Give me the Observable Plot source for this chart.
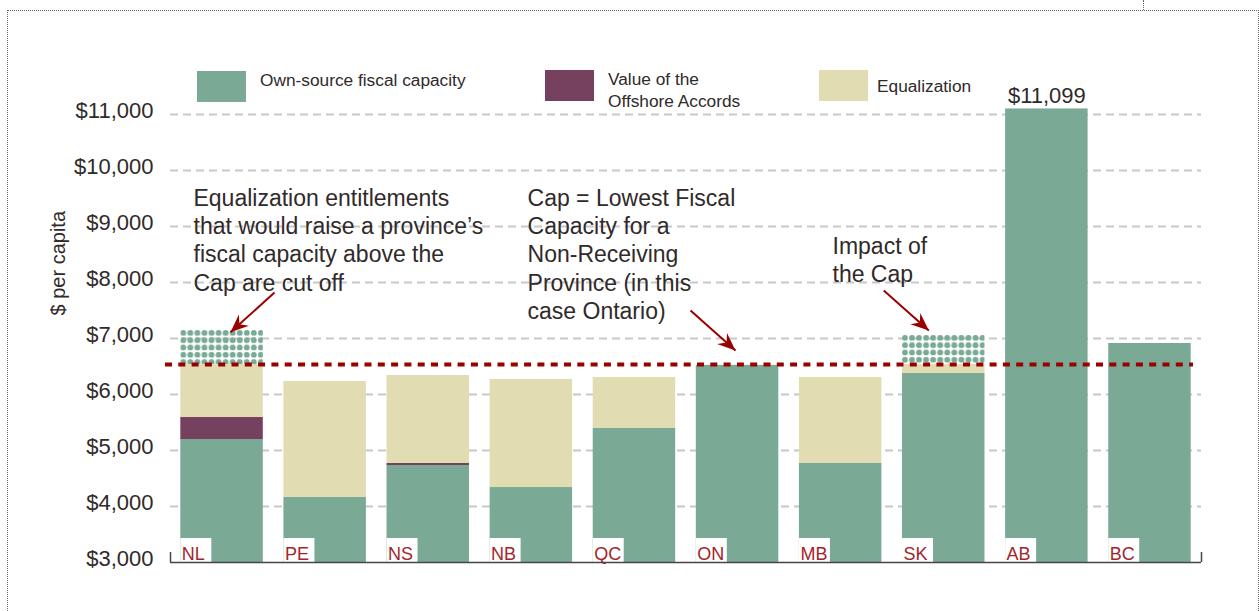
<!DOCTYPE html>
<html><head><meta charset="utf-8">
<script src="https://cdn.jsdelivr.net/npm/d3@7"></script>
<script src="https://cdn.jsdelivr.net/npm/@observablehq/plot@0.6"></script>
<style>
html,body{margin:0;padding:0;background:#fff;}
#wrap{position:relative;width:1259px;height:611px;overflow:hidden;font-family:"Liberation Sans",Arial,sans-serif;color:#302a2a;}
.frame{position:absolute;left:7px;top:10px;width:1250px;height:700px;border-left:1px dotted #666;border-top:1px dotted #666;border-right:1px dotted #666;}
.notch{position:absolute;left:1143px;top:0;height:10px;border-left:1px dotted #666;}
#chart{position:absolute;left:0;top:0;}
.sw{position:absolute;width:49px;height:31px;}
.lt{position:absolute;font-size:17.3px;line-height:22px;white-space:pre;}
</style></head><body>
<div id="wrap">
  <div class="frame"></div><div class="notch"></div>
  <div id="chart"></div>
  <div id="legend"></div>
</div>
<script>
// ---- data ----
const provinces   = ["NL","PE","NS","NB","QC","ON","MB","SK","AB","BC"];
const ownSource   = [5196, 4161, 4732, 4339, 5398, 6520, 4768, 6375, 11099, 6911];
const offshore    = [393, 0, 36, 0, 0, 0, 0, 0, 0, 0];
const equalization= [946, 2071, 1571, 1929, 906, 0, 1536, 160, 0, 0];
const cutOff      = [608, 0, 0, 0, 0, 0, 0, 519, 0, 0];
const cap = 6535;
const yTicks = [3000, 4000, 5000, 6000, 7000, 8000, 9000, 10000, 11000];
const seriesKeys   = ["own", "offshore", "equalization"];
const seriesLabels = ["Own-source fiscal capacity", "Value of the\nOffshore Accords", "Equalization"];
const seriesColors = ["#7aaa96", "#76405f", "#e2dcb2"];
const notes = [
  {x: -0.277, y: 9732, text: "Equalization entitlements\nthat would raise a province\u2019s\nfiscal capacity above the\nCap are cut off"},
  {x: 2.963, y: 9732, text: "Cap = Lowest Fiscal\nCapacity for a\nNon-Receiving\nProvince (in this\ncase Ontario)"},
  {x: 5.921, y: 8875, text: "Impact of\nthe Cap"}
];
const pointers = [
  {x1: 0.509, y1: 7821, x2: 0.082, y2: 7112},
  {x1: 4.544, y1: 7500, x2: 4.980, y2: 6786},
  {x1: 6.418, y1: 7857, x2: 6.855, y2: 7143}
];

// ---- derived tables ----
const rows = provinces.map((p, i) => ({p, i, own: ownSource[i], off: offshore[i], eq: equalization[i], cut: cutOff[i]}));
const segs = [];
rows.forEach(r => {
  segs.push({i: r.i, series: "own", y1: 0, y2: r.own});
  segs.push({i: r.i, series: "offshore", y1: r.own, y2: r.own + r.off});
  segs.push({i: r.i, series: "equalization", y1: r.own + r.off, y2: r.own + r.off + r.eq});
});
const fmt = d => "$" + d3.format(",")(d);
const half = 0.4;
const red = "#990000";

const axisMark = Plot.axisY
  ? Plot.axisY(yTicks, {tickFormat: fmt, tickSize: 0, tickPadding: 17, fontSize: 22, dy: -4, label: null})
  : Plot.text(yTicks, {y: d => d, frameAnchor: "left", textAnchor: "end", dx: -17, dy: -4, text: fmt, fontSize: 22});

const cutMarks = rows.filter(r => r.cut > 0).map(r =>
  Plot.rectY([r], {x1: d => d.i - half, x2: d => d.i + half, y1: d => d.own + d.off + d.eq, y2: d => d.own + d.off + d.eq + d.cut, fill: `url(#dots-${r.p})`})
);

const plot = Plot.plot({
  width: 1259, height: 611,
  marginTop: 86, marginBottom: 49, marginLeft: 170, marginRight: 58,
  style: {fontFamily: "'Liberation Sans', Arial, sans-serif", fontSize: "22px", color: "#302a2a", background: "transparent", overflow: "visible"},
  x: {domain: [-0.5, 9.5], axis: null},
  y: Plot.axisY ? {domain: [3000, 11500], clamp: true} : {domain: [3000, 11500], clamp: true, axis: null},
  color: {domain: seriesKeys, range: seriesColors},
  marks: [
    Plot.ruleY(yTicks.slice(1), {stroke: "#c8c8c8", strokeWidth: 2, strokeDasharray: "8,5"}),
    Plot.rectY(segs, {filter: d => d.y2 > d.y1, x1: d => d.i - half, x2: d => d.i + half, y1: "y1", y2: "y2", fill: "series"}),
    ...cutMarks,
    Plot.ruleY([cap], {stroke: red, strokeWidth: 4, strokeDasharray: "7,6.3", insetLeft: -5, insetRight: 8}),
    Plot.rect(rows, {x1: d => d.i - half, x2: d => d.i - half, y1: 3000, y2: 3000, insetTop: -24, insetRight: -31, fill: "white"}),
    Plot.text(rows, {x: d => d.i - half, y: 3000, text: "p", textAnchor: "start", dx: 1, dy: -8.5, fill: "#a3262a", fontSize: 18}),
    Plot.ruleY([3000], {stroke: "#4a4444", strokeWidth: 1.5}),
    Plot.ruleX([-0.5, 9.5], {y1: 3000, y2: 3000, insetTop: -10, stroke: "#4a4444", strokeWidth: 1.5}),
    axisMark,
    Plot.text(["$ per capita"], {frameAnchor: "left", rotate: -90, dx: -112, dy: -9, fontSize: 20}),
    Plot.text(rows.filter(r => r.own === d3.max(ownSource)), {x: "i", y: "own", text: d => fmt(d.own), dy: -13, fontSize: 22}),
    Plot.text(notes, {x: "x", y: "y", text: "text", textAnchor: "start", lineAnchor: "top", fontSize: 23, lineHeight: 1.235}),
    Plot.link(pointers, {x1: "x1", y1: "y1", x2: "x2", y2: "y2", stroke: red, strokeWidth: 2})
  ]
});

// patterns and arrowheads
const svg = d3.select(plot);
const defs = svg.insert("defs", ":first-child");
const xs = plot.scale("x"), ys = plot.scale("y");
rows.filter(r => r.cut > 0).forEach(r => {
  const px = xs.apply(r.i - half);
  const py = ys.apply(r.own + r.off + r.eq + r.cut);
  const pat = defs.append("pattern").attr("id", `dots-${r.p}`).attr("patternUnits", "userSpaceOnUse")
    .attr("x", px).attr("y", py).attr("width", 7.05).attr("height", 7.3);
  pat.append("circle").attr("cx", 3).attr("cy", 2.9).attr("r", 2.9).attr("fill", seriesColors[0]);
});
const mk = defs.append("marker").attr("id", "barb").attr("viewBox", "-19 -8 20 16")
  .attr("refX", 0).attr("refY", 0).attr("markerWidth", 20).attr("markerHeight", 16)
  .attr("markerUnits", "userSpaceOnUse").attr("orient", "auto");
mk.append("path").attr("d", "M0,0L-18,-7.5L-12,0L-18,7.5Z").attr("fill", red).attr("stroke", "none");
svg.selectAll("path").filter(function () {
  const g = this.parentNode;
  return g && g.getAttribute && g.getAttribute("aria-label") === "link";
}).attr("marker-end", "url(#barb)");

document.getElementById("chart").appendChild(plot);

// legend
const legendPos = [
  {sx: 197, sy: 71, tx: 260, ty: 69},
  {sx: 545, sy: 70, tx: 608, ty: 68},
  {sx: 819, sy: 70, tx: 877, ty: 75}
];
const lg = document.getElementById("legend");
seriesKeys.forEach((k, j) => {
  const p = legendPos[j];
  const s = document.createElement("div");
  s.className = "sw"; s.style.left = p.sx + "px"; s.style.top = p.sy + "px"; s.style.background = seriesColors[j];
  lg.appendChild(s);
  const t = document.createElement("div");
  t.className = "lt"; t.style.left = p.tx + "px"; t.style.top = p.ty + "px"; t.textContent = seriesLabels[j];
  lg.appendChild(t);
});
</script>
</body></html>
